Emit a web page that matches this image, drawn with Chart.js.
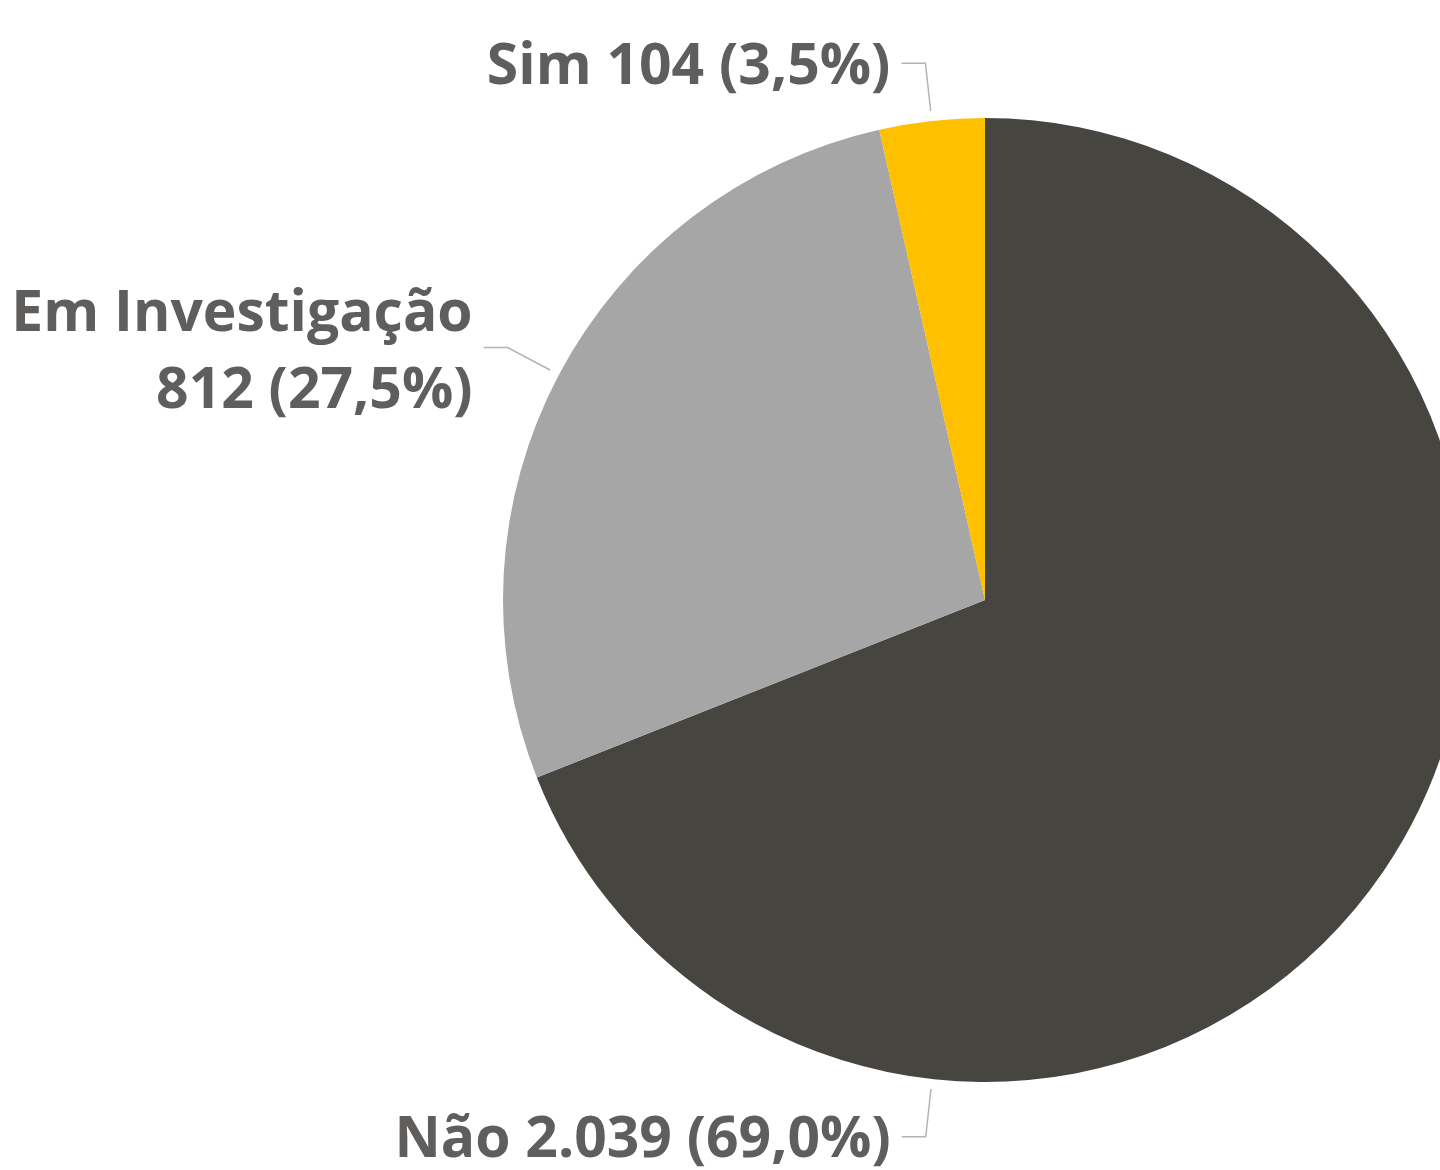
<!DOCTYPE html>
<html>
<head>
<meta charset="utf-8">
<script src="https://cdn.jsdelivr.net/npm/chart.js@4.4.1/dist/chart.umd.min.js"></script>
<style>
  html, body { margin: 0; padding: 0; background: #fff; overflow: hidden; }
  #wrap { width: 1470px; height: 1170px; }
</style>
</head>
<body>
<div id="wrap"><canvas id="pie" width="1470" height="1170"></canvas></div>
<script>
var categories = ['Não', 'Em Investigação', 'Sim'];
var values = [2039, 812, 104];
var colors = ['#47453F', '#A6A6A6', '#FFC000'];

var total = values.reduce(function (a, b) { return a + b; }, 0);

function fmtInt(n) {
  return String(n).replace(/\B(?=(\d{3})+(?!\d))/g, '.');
}
function fmtPct(v) {
  return (v / total * 100).toFixed(1).replace('.', ',') + '%';
}

// where each leader line touches the pie (chart.js radians); null = slice middle
var anchorAngles = [Math.PI / 2 + 0.11, null, null];

var outsideLabels = {
  id: 'outsideLabels',
  afterDraw: function (chart) {
    var ctx = chart.ctx;
    var arcs = chart.getDatasetMeta(0).data;
    ctx.save();
    ctx.font = 'bold 57px "Open Sans", sans-serif';
    ctx.textAlign = 'right';
    ctx.textBaseline = 'middle';
    arcs.forEach(function (arc, i) {
      var p = arc.getProps(['x', 'y', 'startAngle', 'endAngle', 'outerRadius'], true);
      var a = anchorAngles[i] != null ? anchorAngles[i] : (p.startAngle + p.endAngle) / 2;
      var x1 = p.x + Math.cos(a) * (p.outerRadius + 10);
      var y1 = p.y + Math.sin(a) * (p.outerRadius + 10);
      var x2 = p.x + Math.cos(a) * (p.outerRadius + 58);
      var y2 = p.y + Math.sin(a) * (p.outerRadius + 58);
      var x3 = x2 - 24;

      ctx.strokeStyle = '#B4B4B4';
      ctx.lineWidth = 1.5;
      ctx.beginPath();
      ctx.moveTo(x1, y1);
      ctx.lineTo(x2, y2);
      ctx.lineTo(x3, y2);
      ctx.stroke();

      var tx = x3 - 11;
      var tail = fmtInt(values[i]) + ' (' + fmtPct(values[i]) + ')';
      var line = categories[i] + ' ' + tail;
      ctx.fillStyle = '#605E5C';
      if (tx - ctx.measureText(line).width < 20) {
        ctx.fillText(categories[i], tx, y2 - 33);
        ctx.fillText(tail, tx, y2 + 44);
      } else {
        ctx.fillText(line, tx, y2 + 4);
      }
    });
    ctx.restore();
  }
};

var chart = new Chart(document.getElementById('pie'), {
  type: 'pie',
  data: {
    labels: categories,
    datasets: [{
      data: values,
      backgroundColor: colors,
      borderWidth: 0
    }]
  },
  options: {
    responsive: false,
    animation: false,
    layout: { padding: { left: 503, top: 118, right: 3, bottom: 88 } },
    plugins: {
      legend: { display: false },
      tooltip: { enabled: false }
    }
  },
  plugins: [outsideLabels]
});
</script>
</body>
</html>
